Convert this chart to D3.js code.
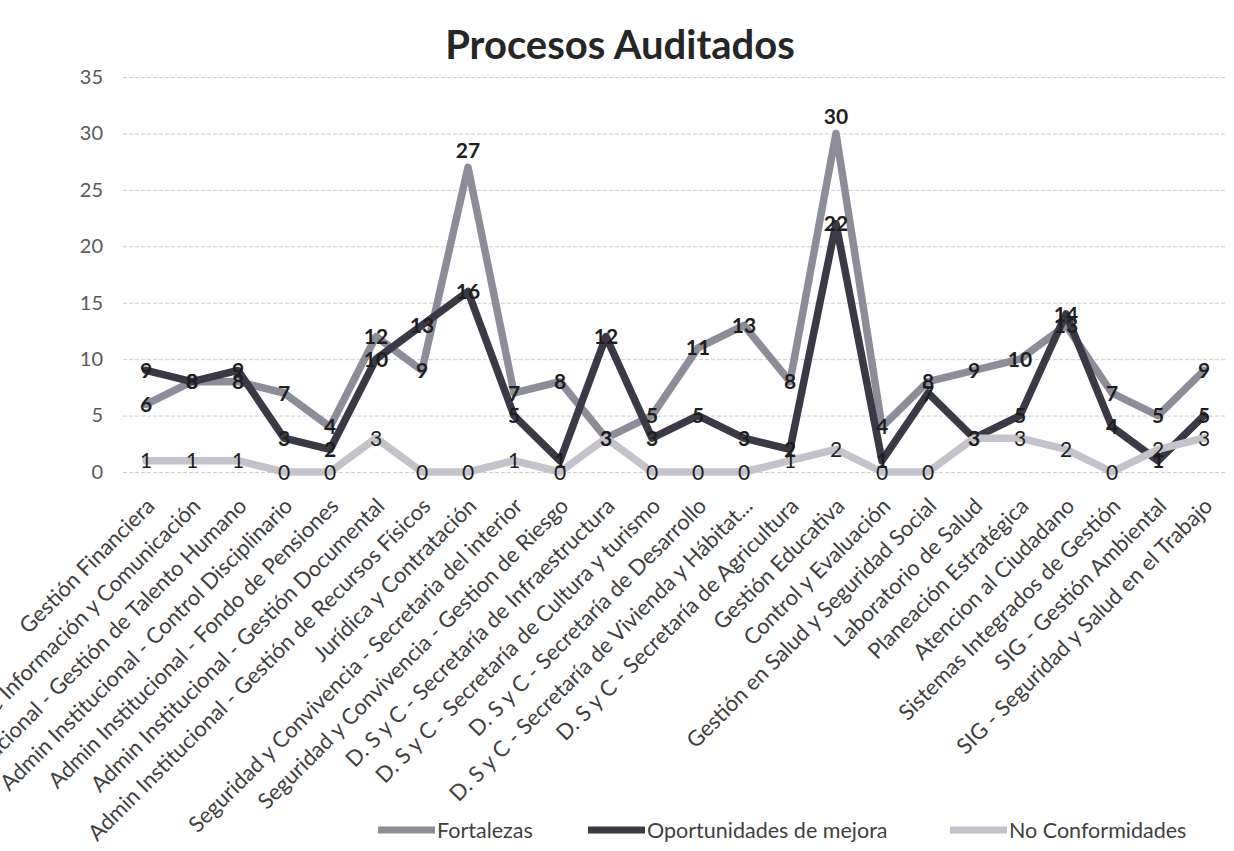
<!DOCTYPE html>
<html>
<head>
<meta charset="utf-8">
<script src="https://cdn.jsdelivr.net/npm/d3@7/dist/d3.min.js"></script>
<style>
  html, body { margin: 0; padding: 0; background: #ffffff; }
  svg { display: block; font-family: Lato, "Open Sans", sans-serif; }
</style>
</head>
<body>
<svg id="chart" width="1234" height="851"></svg>
<script>
const categories = [
  "Gestión Financiera",
  "Gestión de Información y Comunicación",
  "Admin Institucional - Gestión de Talento Humano",
  "Admin Institucional - Control Disciplinario",
  "Admin Institucional - Fondo de Pensiones",
  "Admin Institucional - Gestión Documental",
  "Admin Institucional - Gestión de Recursos Físicos",
  "Jurídica y Contratación",
  "Seguridad y Convivencia - Secretaria del interior",
  "Seguridad y Convivencia - Gestion de Riesgo",
  "D. S y C - Secretaría de Infraestructura",
  "D. S y C - Secretaría de Cultura y turismo",
  "D. S y C - Secretaría de Desarrollo",
  "D. S y C - Secretaría de Vivienda y Hábitat...",
  "D. S y C - Secretaría de Agricultura",
  "Gestión Educativa",
  "Control y Evaluación",
  "Gestión en Salud y Seguridad Social",
  "Laboratorio de Salud",
  "Planeación Estratégica",
  "Atencion al Ciudadano",
  "Sistemas Integrados de Gestión",
  "SIG - Gestión Ambiental",
  "SIG - Seguridad y Salud en el Trabajo"
];
const fortalezas      = [6, 8, 8, 7, 4, 12, 9, 27, 7, 8, 3, 5, 11, 13, 8, 30, 4, 8, 9, 10, 13, 7, 5, 9];
const oportunidades   = [9, 8, 9, 3, 2, 10, 13, 16, 5, 1, 12, 3, 5, 3, 2, 22, 1, 7, 3, 5, 14, 4, 1, 5];
const noConformidades = [1, 1, 1, 0, 0, 3, 0, 0, 1, 0, 3, 0, 0, 0, 1, 2, 0, 0, 3, 3, 2, 0, 2, 3];
const seriesNames = ["Fortalezas", "Oportunidades de mejora", "No Conformidades"];
const yTicks = [0, 5, 10, 15, 20, 25, 30, 35];
const titleText = "Procesos Auditados";

const seriesValues = [fortalezas, oportunidades, noConformidades];
const colors = ["#8d8c99", "#3a3945", "#c4c3cc"];
const labelWeights = ["bold", "bold", "normal"];

const svg = d3.select("#chart");
const plotLeft = 123, plotRight = 1227, plotTop = 77, plotBottom = 472;

const x = d3.scalePoint().domain(categories).range([plotLeft, plotRight]).padding(0.5);
const y = d3.scaleLinear().domain([0, 35]).range([plotBottom, plotTop]);

// title
svg.append("text")
  .attr("x", 620).attr("y", 59)
  .attr("text-anchor", "middle")
  .attr("font-size", 40).attr("font-weight", "bold")
  .attr("fill", "#262626")
  .text(titleText);

// y axis + gridlines
const yAxis = svg.append("g")
  .attr("transform", `translate(${plotLeft},0)`)
  .call(d3.axisLeft(y).tickValues(yTicks).tickSize(-(plotRight - plotLeft)).tickPadding(20));
yAxis.select(".domain").remove();
yAxis.selectAll(".tick line")
  .attr("stroke", "#cfcfcf").attr("stroke-width", 1).attr("stroke-dasharray", "4,2");
yAxis.selectAll(".tick text")
  .attr("font-size", 20).attr("fill", "#595959")
  .attr("font-family", "Lato, sans-serif");

// x axis
const xAxis = svg.append("g")
  .attr("transform", `translate(0,${plotBottom})`)
  .call(d3.axisBottom(x).tickSize(0));
xAxis.select(".domain").remove();
xAxis.selectAll(".tick text")
  .attr("x", 0).attr("y", 0).attr("dy", "0.35em")
  .attr("text-anchor", "end")
  .attr("transform", "translate(4,30) rotate(-45)")
  .attr("font-size", 22).attr("fill", "#404040")
  .attr("font-family", "Lato, sans-serif");

// lines
const line = d3.line()
  .x((d, i) => x(categories[i]))
  .y(d => y(d));

seriesValues.forEach((vals, s) => {
  svg.append("path")
    .datum(vals)
    .attr("fill", "none")
    .attr("stroke", colors[s])
    .attr("stroke-width", 7.5)
    .attr("stroke-linejoin", "round")
    .attr("stroke-linecap", "round")
    .attr("d", line);
});

// data labels
seriesValues.forEach((vals, s) => {
  svg.append("g").selectAll("text")
    .data(vals)
    .join("text")
    .attr("x", (d, i) => x(categories[i]))
    .attr("y", d => y(d) + (d > 25 ? -17 : 0))
    .attr("dy", "0.36em")
    .attr("text-anchor", "middle")
    .attr("font-size", 21)
    .attr("font-weight", labelWeights[s])
    .attr("fill", "#1e1e1e")
    .text(d => d);
});

// legend
const legendX = [378, 588, 950];
const legend = svg.append("g");
seriesNames.forEach((name, s) => {
  const g = legend.append("g").attr("transform", `translate(${legendX[s]},830)`);
  g.append("line")
    .attr("x1", 0).attr("x2", 57).attr("y1", 0).attr("y2", 0)
    .attr("stroke", colors[s]).attr("stroke-width", 7);
  g.append("text")
    .attr("x", 59).attr("y", 0).attr("dy", "0.35em")
    .attr("font-size", 21.5).attr("fill", "#404040")
    .text(name);
});
</script>
</body>
</html>
